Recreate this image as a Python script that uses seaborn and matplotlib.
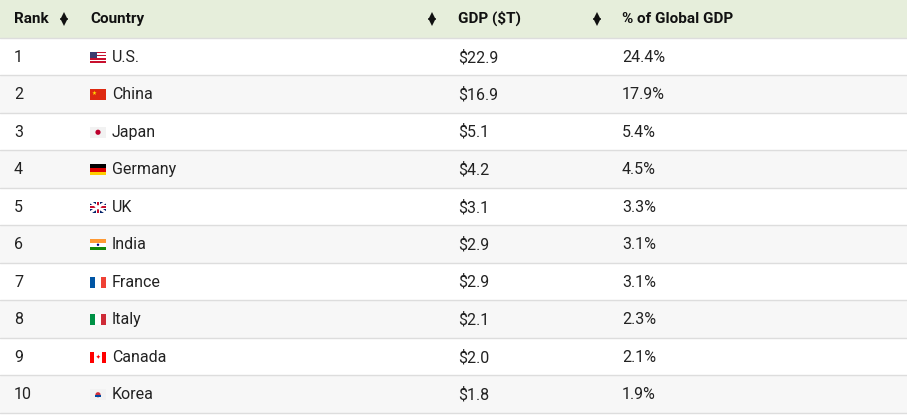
import matplotlib
matplotlib.use("Agg")
import matplotlib.pyplot as plt
from matplotlib.patches import Rectangle, Circle
import seaborn as sns

sns.set_theme(style="white")
plt.rcParams['font.family'] = ['Roboto', 'DejaVu Sans']

ranks = [1, 2, 3, 4, 5, 6, 7, 8, 9, 10]
countries = ["U.S.", "China", "Japan", "Germany", "UK", "India", "France", "Italy", "Canada", "Korea"]
gdp = [22.9, 16.9, 5.1, 4.2, 3.1, 2.9, 2.9, 2.1, 2.0, 1.8]
share = [24.4, 17.9, 5.4, 4.5, 3.3, 3.1, 3.1, 2.3, 2.1, 1.9]
headers = ["Rank", "Country", "GDP ($T)", "% of Global GDP"]

W, H = 907, 416
fig = plt.figure(figsize=(W/100, H/100), dpi=100)
ax = fig.add_axes([0, 0, 1, 1])
ax.set_xlim(0, W); ax.set_ylim(H, 0); ax.axis("off")

hh, rh = 37.5, 37.5
ax.add_patch(Rectangle((0, 0), W, hh, color="#e6eedb", lw=0))
colx = [14, 90, 458, 622]
for x, t in zip(colx, headers):
    ax.text(x, hh/2, t, fontsize=11, fontweight="bold", va="center", color="#111")
for ax_x in [64, 432, 597]:
    ax.plot([ax_x], [hh/2 - 3], marker="^", ms=5.5, color="#111", mew=0, ls="none")
    ax.plot([ax_x], [hh/2 + 3.5], marker="v", ms=5.5, color="#111", mew=0, ls="none")

def flag(i, x, y):
    w, h = 16, 11
    y0 = y - h/2
    def r(xx, yy, ww, hh_, c):
        ax.add_patch(Rectangle((xx, yy), ww, hh_, color=c, lw=0))
    if i == 0:
        for k in range(7):
            r(x, y0 + k*h/7, w, h/7, "#c8102e" if k % 2 == 0 else "#ffffff")
        r(x, y0, w*0.45, h*0.55, "#3c3b6e")
    elif i == 1:
        r(x, y0, w, h, "#de2910"); ax.text(x+4, y-1.5, "★", fontsize=4, color="#ffde00", ha="center", va="center")
    elif i in (2, 9):
        r(x, y0, w, h, "#f2f2f2"); ax.add_patch(Circle((x+w/2, y), 2.6, color="#bc002d" if i == 2 else "#cd2e3a", lw=0))
        if i == 9:
            ax.add_patch(Rectangle((x+w/2-2.6, y), 5.2, 2.6, color="#0047a0", lw=0))
    elif i == 3:
        for k, c in enumerate(["#000000", "#dd0000", "#ffce00"]):
            r(x, y0 + k*h/3, w, h/3, c)
    elif i == 4:
        r(x, y0, w, h, "#012169")
        ax.plot([x, x+w], [y0, y0+h], color="white", lw=2); ax.plot([x, x+w], [y0+h, y0], color="white", lw=2)
        r(x, y-2, w, 4, "white"); r(x+w/2-2, y0, 4, h, "white")
        r(x, y-1, w, 2, "#c8102e"); r(x+w/2-1, y0, 2, h, "#c8102e")
    elif i == 5:
        for k, c in enumerate(["#ff9933", "#ffffff", "#138808"]):
            r(x, y0 + k*h/3, w, h/3, c)
        ax.add_patch(Circle((x+w/2, y), 1.2, color="#000080", lw=0))
    elif i == 6:
        for k, c in enumerate(["#0055a4", "#ffffff", "#ef4135"]):
            r(x + k*w/3, y0, w/3, h, c)
    elif i == 7:
        for k, c in enumerate(["#009246", "#ffffff", "#ce2b37"]):
            r(x + k*w/3, y0, w/3, h, c)
    elif i == 8:
        r(x, y0, w, h, "#ff0000"); r(x+4, y0, 8, h, "#ffffff")
        ax.text(x+8, y, "✦", fontsize=4, color="#ff0000", ha="center", va="center")

for i in range(len(ranks)):
    y0 = hh + i*rh
    ax.add_patch(Rectangle((0, y0), W, rh, color="#ffffff" if i % 2 == 0 else "#f7f7f7", lw=0))
    ax.plot([0, W], [y0, y0], color="#dddddd", lw=1)
    yc = y0 + rh/2 + 1
    ax.text(colx[0], yc, str(ranks[i]), fontsize=11.5, va="center", color="#222")
    flag(i, colx[1], yc)
    ax.text(colx[1] + 22, yc, countries[i], fontsize=11.5, va="center", color="#222")
    ax.text(colx[2], yc, f"${gdp[i]:.1f}", fontsize=11.5, va="center", color="#222")
    ax.text(colx[3], yc, f"{share[i]:.1f}%", fontsize=11.5, va="center", color="#222")
ax.plot([0, W], [hh + 10*rh, hh + 10*rh], color="#dddddd", lw=1)

fig.savefig("out.png", dpi=100)
